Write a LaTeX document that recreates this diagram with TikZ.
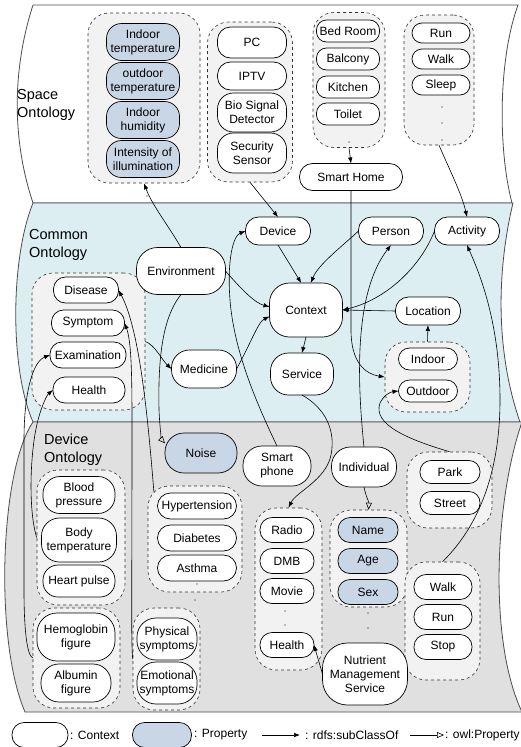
\documentclass[tikz,border=0pt]{standalone}
\usepackage{fontspec}
\setmainfont{Liberation Sans}
\usetikzlibrary{arrows.meta}
\definecolor{commonblue}{HTML}{DCEEF2}
\definecolor{devicegray}{HTML}{E0E0E0}
\definecolor{groupgray}{HTML}{F2F2F2}
\definecolor{propblue}{HTML}{C9D6E6}

\begin{document}
\begin{tikzpicture}[x=1pt,y=-1pt,
font=\fontsize{12}{14}\selectfont,
ctx/.style = {draw, fill=white, rounded corners=#1, align=center,
             inner sep=1pt, outer sep=0pt, line width=0.7pt},
ctx/.default = 10pt,
prop/.style = {ctx=#1, fill=propblue},
prop/.default = 12pt,
sz/.style 2 args = {minimum width=#1pt, minimum height=#2pt},
grp/.style = {draw=black!80, dashed, fill=groupgray, rounded corners=21pt,
             line width=0.6pt},
band/.style = {draw=black!70, line width=0.8pt},
lbl/.style = {anchor=west, align=left, inner sep=0pt,
             font=\fontsize{14.5}{18}\selectfont},
sub/.style = {-{Latex[length=6pt,width=4.5pt]}, line width=0.6pt},
owl/.style = {-{Triangle[open,length=7pt,width=6pt]}, line width=0.6pt}
                ]
    \useasboundingbox (0,0) rectangle (520,747);
    % the three ontology bands
    \draw[band, fill=white] (33,5) -- (518,5) .. controls (498,60) and (498,150) .. (512,203)
        -- (33,203) .. controls (12,140) and (12,70) .. (33,5) -- cycle;
    \draw[band, fill=commonblue] (33,203) -- (513,203) .. controls (497,270) and (495,350) .. (520,422)
        -- (33,422) .. controls (10,370) and (10,260) .. (33,203) -- cycle;
    \draw[band, fill=devicegray] (33,422) -- (522,422) .. controls (495,500) and (488,640) .. (522,712)
        -- (25,712) .. controls (-6,640) and (0,470) .. (33,422) -- cycle;
    \node[lbl] (spacelbl) at (17,105) {Space\\Ontology};
    \node[lbl] (commonlbl) at (29,245) {Common\\Ontology};
    \node[lbl] (devicelbl) at (44,450) {Device\\Ontology};

    % groups
    \node[grp, sz={112}{170}] (envprops) at (144,98) {};
    \node[grp, sz={85}{160}] (devices) at (250,102) {};
    \node[grp, sz={72}{135}] (rooms) at (349,80) {};
    \node[grp, sz={70}{130}] (acts) at (439,80) {};
    \node[grp, sz={85}{70}] (locs) at (427.5,377) {};
    \node[grp, sz={113}{137}] (medgrp) at (88.5,341.5) {};
    \node[grp, sz={85}{76}] (places) at (449.5,490) {};
    \node[grp, sz={88}{135}] (vitals) at (81,537.5) {};
    \node[grp, sz={94}{106}] (diseases) at (195,539) {};
    \node[grp, sz={67}{162}] (media) at (288.5,589) {};
    \node[grp, sz={77}{97}] (personal) at (368.5,558.5) {};
    \node[grp, sz={75}{118}] (motions) at (442.5,621) {};
    \node[grp, sz={87}{100}] (blood2) at (76.5,658) {};
    \node[grp, sz={67}{102}] (symptoms) at (166.5,659) {};
    \foreach \x/\y in {147/196, 349/142, 442/107, 442/123, 442/140, 197/584,
                       285/611, 285/625, 368/613, 368/628, 195/600}
        \fill (\x,\y) circle (0.7);

    % space ontology
    \foreach \n/\y/\t in {indoorT/42/{Indoor\\temperature}, outdoorT/81/{outdoor\\temperature},
                          humidity/120/{Indoor\\humidity}, illum/159/{Intensity of\\illumination}}
        \node[prop=15pt, sz={73}{37}] (\n) at (143,\y) {\t};
    \node[ctx=13pt, sz={69}{31}] (pc) at (252,42.5) {PC};
    \node[ctx=13pt, sz={69}{28}] (iptv) at (252,76) {IPTV};
    \node[ctx=16pt, sz={69}{39}] (bio) at (252,112.5) {Bio Signal\\Detector};
    \node[ctx=16pt, sz={69}{40}] (security) at (252,153) {Security\\Sensor};
    \foreach \n/\y/\t in {bedroom/31/Bed Room, balcony/59/Balcony, kitchen/87/Kitchen, toilet/114/Toilet}
        \node[ctx, sz={63}{22}] (\n) at (348,\y) {\t};
    \node[ctx=13pt, sz={103}{27}] (smarthome) at (351,177) {Smart Home};
    \foreach \n/\y/\t in {run/33/Run, walk/59/Walk, sleep/85/Sleep}
        \node[ctx, sz={58}{20}] (\n) at (441,\y) {\t};

    % common ontology
    \node[ctx=13pt, sz={65}{28}] (device) at (278,231) {Device};
    \node[ctx=13pt, sz={65}{28}] (person) at (391,231) {Person};
    \node[ctx=13pt, sz={65}{28}] (activity) at (467,231) {Activity};
    \node[ctx=21pt, sz={89}{47}] (environment) at (181,271) {Environment};
    \node[ctx=20pt, sz={73}{54}] (context) at (306,310) {Context};
    \node[ctx=13pt, sz={65}{28}] (location) at (428,311) {Location};
    \node[ctx=11pt, sz={59}{22}] (indoor) at (428,359) {Indoor};
    \node[ctx=11pt, sz={59}{22}] (outdoor) at (428,391) {Outdoor};
    \node[ctx=18pt, sz={63}{42}] (service) at (302,374) {Service};
    \node[ctx=18pt, sz={65}{38}] (medicine) at (204,369) {Medicine};
    \node[ctx=12pt, sz={65}{26}] (disease) at (86,290) {Disease};
    \node[ctx=12pt, sz={73}{26}] (symptom) at (88,323) {Symptom};
    \node[ctx=12pt, sz={76}{26}] (exam) at (88,355) {Examination};
    \node[ctx=12pt, sz={72}{26}] (health) at (89,390) {Health};

    % device ontology
    \node[prop=19pt, sz={72}{40}] (noise) at (201,453) {Noise};
    \node[ctx=19pt, sz={68}{40}] (smartphone) at (277,466) {Smart\\phone};
    \node[ctx=19pt, sz={65}{40}] (individual) at (364,467) {Individual};
    \node[ctx=11pt, sz={60}{23}] (park) at (450,472) {Park};
    \node[ctx=11pt, sz={60}{23}] (street) at (450,503) {Street};
    \node[ctx=17pt, sz={72}{37}] (blood) at (79,495) {Blood\\pressure};
    \node[ctx=18pt, sz={75}{44}] (bodytemp) at (79,540) {Body\\temperature};
    \node[ctx=15pt, sz={72}{32}] (heart) at (79,581) {Heart pulse};
    \foreach \n/\y/\t in {hyper/506/Hypertension, diabetes/538/Diabetes, asthma/568/Asthma}
        \node[ctx=13pt, sz={79}{26}] (\n) at (197,\y) {\t};
    \foreach \n/\y/\t in {radio/530/Radio, dmb/561/DMB, movie/591/Movie, healthd/645/Health}
        \node[ctx=12pt, sz={54}{25}] (\n) at (287,\y) {\t};
    \foreach \n/\y/\t in {name/530/Name, age/561/Age, sex/592/Sex}
        \node[prop=12pt, sz={60}{25}] (\n) at (368,\y) {\t};
    \node[ctx=25pt, sz={85}{62}] (nutrient) at (365,674) {Nutrient\\Management\\Service};
    \foreach \n/\y/\t in {walkd/587/Walk, rund/617/Run, stop/647/Stop}
        \node[ctx=12pt, sz={58}{25}] (\n) at (443,\y) {\t};
    \node[ctx=20pt, sz={78}{48}] (hemo) at (76,637) {Hemoglobin\\figure};
    \node[ctx=18pt, sz={70}{38}] (albumin) at (76,683) {Albumin\\figure};
    \node[ctx=19pt, sz={60}{42}] (physical) at (167,639) {Physical\\symptoms};
    \node[ctx=19pt, sz={60}{42}] (emotional) at (167,683) {Emotional\\symptoms};

    % connectors
    \draw[sub] (environment.north) .. controls (168,225) and (152,205) .. (envprops.south);
    \draw[sub] (devices.south) -- (device.north);
    \draw[sub] (rooms.south) -- (smarthome.north);
    \draw[sub] (acts.south) .. controls (452,175) and (462,195) .. (activity.north);
    \draw[sub] (smarthome.south) -- (351,330) .. controls (351,362) and (365,374) .. (locs.west);
    \draw[sub] (device.south) -- (context.100);
    \draw[sub] (person.west) .. controls (340,248) and (318,265) .. (context.80);
    \draw[sub] (activity.west) .. controls (420,268) and (385,300) .. (context.east);
    \draw[sub] (location.west) -- (context.east);
    \draw[sub] (locs.north) -- (location.south);
    \draw[sub] (context.south) -- (service.north);
    \draw[sub] (environment.east) .. controls (242,290) and (255,303) .. (context.175);
    \draw[sub] (medicine.east) .. controls (250,345) and (258,322) .. (context.190);
    \draw[sub] (medgrp.east) .. controls (155,345) and (162,360) .. (medicine.west);
    \draw[owl] (environment.south) .. controls (162,318) and (158,360) .. (159,410)
        .. controls (160,432) and (162,440) .. (noise.165);
    \draw[sub] (smartphone.north) .. controls (255,400) and (234,350) .. (230,300)
        .. controls (227,260) and (233,236) .. (device.west);
    \draw[sub] (individual.north) .. controls (356,370) and (356,290) .. (person.south);
    \draw[owl] (individual.south) .. controls (366,497) and (369,502) .. (personal.north);
    \draw[sub] (service.south) .. controls (325,408) and (336,430) .. (331,455)
        .. controls (326,480) and (296,492) .. (media.north);
    \draw[sub] (places.north) .. controls (410,440) and (372,425) .. (380,403)
        .. controls (384,395) and (390,392) .. (outdoor.west);
    \draw[sub] (motions.north) .. controls (480,525) and (500,470) .. (500,400)
        .. controls (500,320) and (478,270) .. (activity.south);
    \draw[sub] ([shift={(6.2,6.2)}]diseases.north west) .. controls (148,420) and (140,330) .. (disease.east);
    \draw[sub] (symptoms.west) .. controls (131,640) and (132,600) .. (132,420)
        .. controls (132,370) and (131,340) .. (symptom.east);
    \draw[sub] (vitals.west) .. controls (28,510) and (30,450) .. (38,420)
        .. controls (42,405) and (47,395) .. (health.west);
    \draw[sub] (blood2.west) .. controls (27,655) and (24,630) .. (24,590) -- (24,440)
        .. controls (24,395) and (32,362) .. (exam.west);
    \draw[sub] (nutrient.west) -- (healthd.east);

    % legend
    \node[ctx=12pt, sz={56}{25}] (lgctx) at (40,735) {};
    \node[anchor=west, inner sep=1pt] (lgctxt) at (69,735) {: Context};
    \node[prop=12pt, sz={59}{25}] (lgprop) at (162,735) {};
    \node[anchor=west, inner sep=1pt] (lgpropt) at (193,735) {: Property};
    \coordinate (lgsubA) at (262,735);
    \coordinate (lgsubB) at (300,735);
    \draw[sub] (lgsubA) -- (lgsubB);
    \node[anchor=west, inner sep=1pt] (lgsubt) at (304,735) {: rdfs:subClassOf};
    \coordinate (lgowlA) at (410,735);
    \coordinate (lgowlB) at (444,735);
    \draw[owl] (lgowlA) -- (lgowlB);
    \node[anchor=west, inner sep=1pt] (lgowlt) at (444,735) {: owl:Property};
\end{tikzpicture}
\end{document}
